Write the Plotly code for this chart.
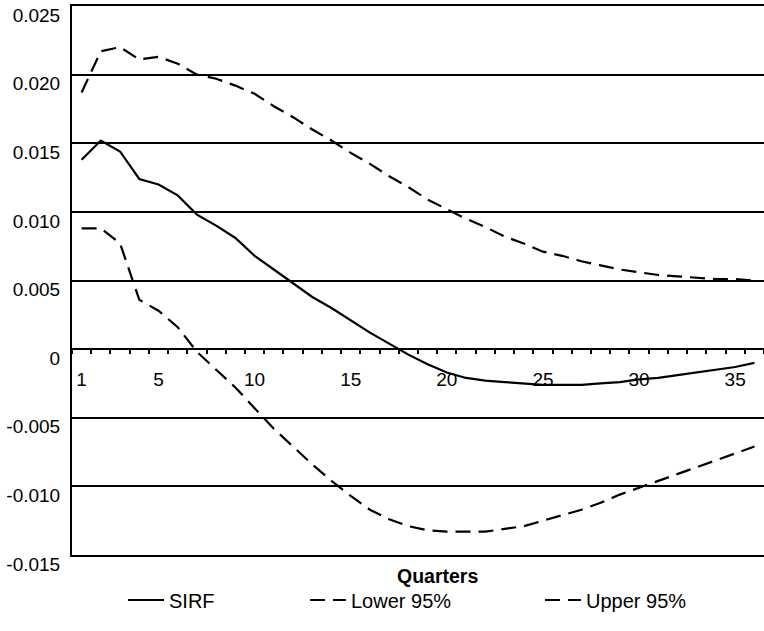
import plotly.graph_objects as go

quarters = list(range(1, 37))

sirf = [0.0138, 0.0152, 0.0144, 0.0124, 0.0120, 0.0112, 0.0098, 0.0090, 0.0081, 0.0068,
        0.0058, 0.0048, 0.0038, 0.0030, 0.0021, 0.0012, 0.0004, -0.0004, -0.0011, -0.0017,
        -0.0021, -0.0023, -0.0024, -0.0025, -0.0026, -0.0026, -0.0026, -0.0025, -0.0024, -0.0022,
        -0.0021, -0.0019, -0.0017, -0.0015, -0.0013, -0.0010]

lower95 = [0.0088, 0.0088, 0.0077, 0.0036, 0.0028, 0.0016, -0.0002, -0.0015, -0.0028, -0.0043,
           -0.0058, -0.0071, -0.0084, -0.0096, -0.0107, -0.0117, -0.0124, -0.0129, -0.0132, -0.0133,
           -0.0133, -0.0133, -0.0131, -0.0129, -0.0125, -0.0121, -0.0117, -0.0112, -0.0106, -0.0101,
           -0.0096, -0.0091, -0.0086, -0.0081, -0.0076, -0.0071]

upper95 = [0.0187, 0.0217, 0.0220, 0.0211, 0.0213, 0.0208, 0.0200, 0.0197, 0.0192, 0.0186,
           0.0177, 0.0169, 0.0160, 0.0152, 0.0143, 0.0135, 0.0126, 0.0118, 0.0109, 0.0102,
           0.0095, 0.0089, 0.0082, 0.0077, 0.0071, 0.0068, 0.0064, 0.0061, 0.0058, 0.0056,
           0.0054, 0.0053, 0.0052, 0.0051, 0.0051, 0.0050]

y_ticks = [0.025, 0.020, 0.015, 0.010, 0.005, 0, -0.005, -0.010, -0.015]
y_tick_labels = ["0.025", "0.020", "0.015", "0.010", "0.005", "0", "-0.005", "-0.010", "-0.015"]
x_ticks = [1, 5, 10, 15, 20, 25, 30, 35]
x_tick_labels = ["1", "5", "10", "15", "20", "25", "30", "35"]

FONT = "Liberation Sans, Arial, sans-serif"
y_min, y_max = -0.015, 0.025
x_range = [0.5, 36.5]

fig = go.Figure()
# SIRF sits on the frame axis (x2), which shares the exact same range as x
fig.add_trace(go.Scatter(x=quarters, y=sirf, mode="lines", name="SIRF", xaxis="x2",
                         line=dict(color="black", width=2.2), legend="legend"))
fig.add_trace(go.Scatter(x=quarters, y=lower95, mode="lines", name="Lower 95%",
                         line=dict(color="black", width=2.2, dash="15px,8px"), legend="legend2"))
fig.add_trace(go.Scatter(x=quarters, y=upper95, mode="lines", name="Upper 95%",
                         line=dict(color="black", width=2.2, dash="15px,8px"), legend="legend3"))

legend_common = dict(orientation="h", font=dict(family=FONT, size=20, color="black"),
                     xref="container", yref="container", xanchor="left", yanchor="middle",
                     y=1 - 600 / 631, bgcolor="rgba(0,0,0,0)", itemwidth=36)

fig.update_layout(
    width=764, height=631,
    margin=dict(l=72, r=0, t=6, b=76, autoexpand=False),
    paper_bgcolor="white", plot_bgcolor="white",
    font=dict(family=FONT, size=19, color="black"),
    showlegend=True,
    legend=dict(x=123 / 764, **legend_common),
    legend2=dict(x=305 / 764, **legend_common),
    legend3=dict(x=540 / 764, **legend_common),
    xaxis=dict(
        range=x_range, anchor="free",
        position=(0 - y_min) / (y_max - y_min),
        tickmode="array", tickvals=x_ticks, ticktext=x_tick_labels, ticks="",
        ticklabelstandoff=13,
        showgrid=False, zeroline=False, showline=True, linecolor="black", linewidth=2,
        minor=dict(tick0=0.5, dtick=1, ticks="outside", ticklen=4, tickwidth=1.5,
                   tickcolor="black", showgrid=False),
        tickfont=dict(family=FONT, size=19, color="black"),
    ),
    # frame lines at the top and bottom of the plotting area
    xaxis2=dict(
        range=x_range, overlaying="x", anchor="y", side="bottom",
        showline=True, mirror=True, linecolor="black", linewidth=2,
        showgrid=False, zeroline=False, showticklabels=False, ticks="",
    ),
    yaxis=dict(
        range=[y_min, y_max], tickmode="array", tickvals=y_ticks,
        ticktext=y_tick_labels,
        ticks="", ticklabelstandoff=6, ticklabelshift=9,
        showgrid=True, gridcolor="black", gridwidth=2,
        zeroline=False, showline=True, linecolor="black", linewidth=2,
        tickfont=dict(family=FONT, size=19, color="black"),
    ),
    annotations=[dict(text="<b>Quarters</b>", xref="paper", yref="paper",
                      x=(437 - 72) / 692, y=(555 - 576) / 549, xanchor="center",
                      yanchor="middle", showarrow=False,
                      font=dict(family=FONT, size=19.5, color="black"))],
)

fig.write_html("out.html")
